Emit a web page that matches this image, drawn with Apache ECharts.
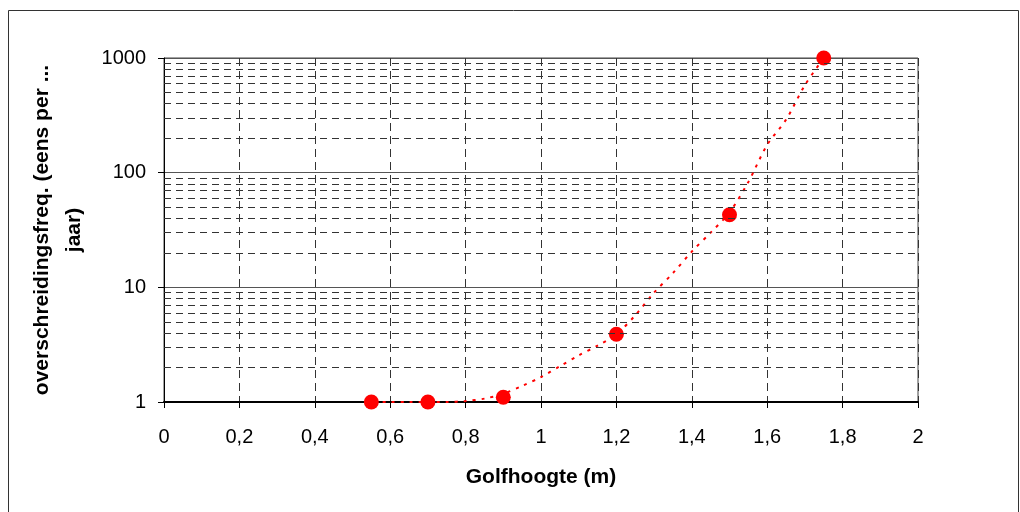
<!DOCTYPE html>
<html>
<head>
<meta charset="utf-8">
<script src="https://cdn.jsdelivr.net/npm/echarts@6/dist/echarts.min.js"></script>
<style>
  html, body { margin: 0; padding: 0; background: #fff; }
  #main { width: 1020px; height: 512px; }
</style>
</head>
<body>
<div id="main"></div>
<script>
// meetpunten (golfhoogte in m, overschrijdingsfreq. eens per ... jaar)
var golfHoogte = [0.55, 0.7, 0.9, 1.2, 1.5, 1.75];
var freq = [1, 1, 1.1, 3.9, 43, 1000];

// trendlijn
var trendX = [0.58, 0.6, 0.65, 0.7, 0.75, 0.8, 0.85, 0.9, 0.95, 1.0, 1.05, 1.1, 1.15, 1.2,
              1.25, 1.3, 1.35, 1.4, 1.45, 1.5, 1.55, 1.6, 1.65, 1.7, 1.75];
var trendY = [1, 1, 1, 1, 1, 1.02, 1.07, 1.18, 1.38, 1.65, 2.05, 2.55, 3.1, 3.9,
              5.7, 9, 13.3, 20.5, 30, 45, 83, 175, 290, 580, 1000];

// tussenliggende rasterlijnen van de log-as
var minorY = [2, 3, 4, 5, 6, 7, 8, 9, 20, 30, 40, 50, 60, 70, 80, 90,
              200, 300, 400, 500, 600, 700, 800, 900];

var myChart = echarts.init(document.getElementById('main'));

function zip(a, b) {
    var out = [];
    for (var i = 0; i < a.length; i++) out.push([a[i], b[i]]);
    return out;
}

var font = 'Liberation Sans, Arial, sans-serif';

var option = {
    animation: false,
    backgroundColor: '#fff',
    textStyle: { fontFamily: font },
    graphic: [{
        type: 'rect',
        shape: { x: 8.5, y: 10.5, width: 1010, height: 520 },
        style: { fill: 'none', stroke: '#333', lineWidth: 1 },
        silent: true
    }],
    grid: {
        left: 164, right: 102, top: 58, bottom: 110,
        containLabel: false, outerBoundsMode: 'none',
        show: true, borderColor: '#444', borderWidth: 1
    },
    xAxis: {
        type: 'value',
        min: 0,
        max: 2,
        interval: 0.2,
        name: 'Golfhoogte (m)',
        nameLocation: 'middle',
        nameGap: 65,
        nameTextStyle: { fontSize: 21, fontWeight: 'bold', color: '#000', fontFamily: font },
        axisLine: { onZero: false, lineStyle: { color: '#000', width: 2 } },
        axisTick: { show: true, length: 6, lineStyle: { color: '#000' } },
        axisLabel: {
            fontSize: 20, color: '#000', margin: 25,
            formatter: function (v) { return String(Math.round(v * 10) / 10).replace('.', ','); }
        },
        splitLine: { show: true, lineStyle: { color: '#333', type: [8, 5], width: 1 } }
    },
    yAxis: {
        type: 'log',
        logBase: 10,
        min: 1,
        max: 1000,
        name: 'overschreidingsfreq. (eens per ...\njaar)',
        nameLocation: 'middle',
        nameRotate: 90,
        nameGap: 68,
        nameTextStyle: { fontSize: 21, fontWeight: 'bold', color: '#000', lineHeight: 32, fontFamily: font },
        axisLine: { lineStyle: { color: '#000', width: 1 } },
        axisTick: { show: true, length: 6, lineStyle: { color: '#000' } },
        axisLabel: {
            fontSize: 20, color: '#000', margin: 18,
            formatter: function (v) { return String(Math.round(v)); }
        },
        splitLine: { show: true, lineStyle: { color: '#555', width: 1 } }
    },
    series: [
        {
            // stippellijnen voor 2..9, 20..90, 200..900
            type: 'line',
            data: [],
            silent: true,
            markLine: {
                silent: true,
                symbol: 'none',
                label: { show: false },
                lineStyle: { color: '#333', type: [7, 5], width: 1 },
                data: minorY.map(function (v) { return { yAxis: v }; })
            }
        },
        {
            name: 'trend',
            type: 'line',
            data: zip(trendX, trendY),
            showSymbol: false,
            smooth: 0.3,
            lineStyle: { color: '#ff0000', width: 2, type: [3, 6] },
            z: 3
        },
        {
            name: 'meting',
            type: 'scatter',
            data: zip(golfHoogte, freq),
            symbol: 'circle',
            symbolSize: 15,
            itemStyle: { color: '#ff0000', opacity: 1 },
            z: 4
        }
    ]
};

myChart.setOption(option);
</script>
</body>
</html>
